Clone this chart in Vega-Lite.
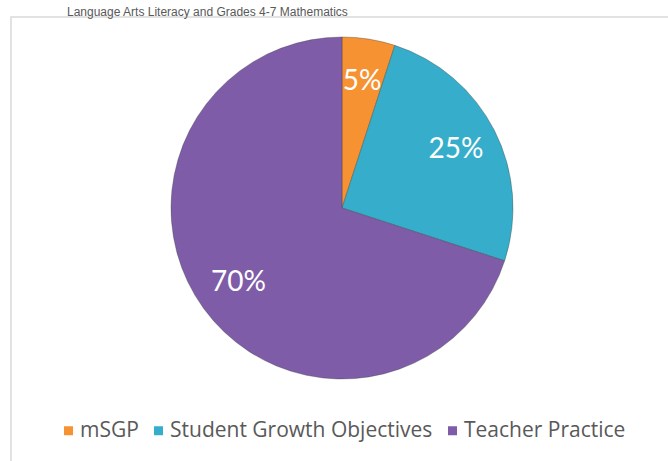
{
  "$schema": "https://vega.github.io/schema/vega-lite/v6.json",
  "autosize": {"type": "none"},
  "width": 662,
  "height": 460,
  "padding": {"left": 11, "top": 17, "right": 0, "bottom": 0},
  "background": "white",
  "view": {"stroke": "#d9d9d9", "strokeWidth": 1.5},
  "title": {
    "text": "Language Arts Literacy and Grades 4-7 Mathematics",
    "anchor": "start",
    "orient": "top",
    "dx": 56,
    "offset": -11,
    "baseline": "alphabetic",
    "font": "Liberation Sans",
    "fontSize": 12,
    "fontWeight": "normal",
    "color": "#595959"
  },
  "data": {
    "values": [
      {"category": "mSGP", "value": 5, "label": "5%"},
      {"category": "Student Growth Objectives", "value": 25, "label": "25%"},
      {"category": "Teacher Practice", "value": 70, "label": "70%"}
    ]
  },
  "encoding": {
    "theta": {"field": "value", "type": "quantitative", "stack": true},
    "order": {"field": "value", "type": "quantitative", "sort": "ascending"}
  },
  "layer": [
    {
      "mark": {"type": "arc", "outerRadius": 171, "yOffset": -39, "stroke": "#3a3a3a", "strokeWidth": 0.6, "strokeOpacity": 0.6},
      "encoding": {
        "color": {
          "field": "category",
          "type": "nominal",
          "scale": {
            "domain": ["mSGP", "Student Growth Objectives", "Teacher Practice"],
            "range": ["#F79232", "#36AECB", "#7E5CA8"]
          },
          "legend": {
            "title": null,
            "orient": "none",
            "direction": "horizontal",
            "legendX": 47,
            "legendY": 403,
            "symbolType": "square",
            "symbolSize": 81,
            "symbolStrokeWidth": 0,
            "labelFont": "Open Sans",
            "labelFontSize": 21,
            "labelColor": "#595959",
            "labelLimit": 400,
            "columnPadding": 9,
            "labelOffset": 1
          }
        }
      }
    },
    {
      "mark": {"type": "text", "radius": 128, "yOffset": -39, "font": "Lato", "fontSize": 28, "color": "white", "align": "center", "baseline": "middle"},
      "encoding": {
        "text": {"field": "label", "type": "nominal"}
      }
    }
  ]
}
